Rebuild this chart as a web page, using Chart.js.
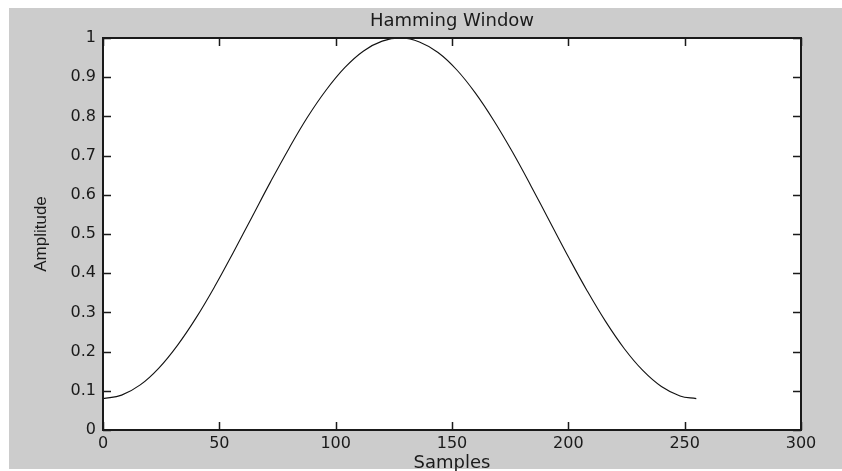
<!DOCTYPE html>
<html>
<head>
<meta charset="utf-8">
<title>Hamming Window</title>
<script src="https://cdn.jsdelivr.net/npm/chart.js@4.4.1/dist/chart.umd.min.js"></script>
<style>
  html, body { margin: 0; padding: 0; background: #ffffff; }
  #wrap { position: relative; width: 842px; height: 471px; }
</style>
</head>
<body>
<div id="wrap"><canvas id="hammingChart" width="842" height="471"></canvas></div>
<script>
// values (sample index -> amplitude)
const samples = [0, 8, 16, 24, 32, 40, 48, 56, 64, 72, 80, 88, 96, 104, 112, 120, 128,
    136, 144, 152, 160, 168, 176, 184, 192, 200, 208, 216, 224, 232, 240, 248, 255];
const amplitude = [0.080, 0.089, 0.115, 0.158, 0.216, 0.286, 0.366, 0.453, 0.543, 0.633, 0.719, 0.799, 0.868, 0.925, 0.967, 0.992, 1.000,
    0.990, 0.963, 0.919, 0.860, 0.789, 0.709, 0.622, 0.532, 0.442, 0.356, 0.277, 0.208, 0.152, 0.111, 0.087, 0.080];

const xTicks = [0, 50, 100, 150, 200, 250, 300];
const yTicks = [0, 0.1, 0.2, 0.3, 0.4, 0.5, 0.6, 0.7, 0.8, 0.9, 1];

const GRAY = '#cccccc';
const INK = '#1a1a1a';

// figure background, white axes box, inward ticks on all four sides
const matlabFrame = {
    id: 'matlabFrame',
    beforeDraw(chart) {
        const ctx = chart.ctx;
        const a = chart.chartArea;
        ctx.save();
        ctx.fillStyle = '#ffffff';
        ctx.fillRect(0, 0, chart.width, chart.height);
        ctx.fillStyle = GRAY;
        ctx.fillRect(9, 8, chart.width - 9, 461);
        ctx.fillStyle = '#ffffff';
        ctx.fillRect(a.left, a.top, a.right - a.left, a.bottom - a.top);
        ctx.restore();
    },
    afterDatasetsDraw(chart) {
        const ctx = chart.ctx;
        const a = chart.chartArea;
        const xs = chart.scales.x;
        const ys = chart.scales.y;
        const len = 8;
        ctx.save();
        ctx.strokeStyle = INK;
        ctx.lineWidth = 1.5;
        ctx.beginPath();
        xTicks.forEach(v => {
            const px = Math.round(xs.getPixelForValue(v)) + 0.5;
            ctx.moveTo(px, a.bottom); ctx.lineTo(px, a.bottom - len);
            ctx.moveTo(px, a.top); ctx.lineTo(px, a.top + len);
        });
        yTicks.forEach(v => {
            const py = Math.round(ys.getPixelForValue(v)) + 0.5;
            ctx.moveTo(a.left, py); ctx.lineTo(a.left + len, py);
            ctx.moveTo(a.right, py); ctx.lineTo(a.right - len, py);
        });
        ctx.stroke();
        ctx.lineWidth = 2;
        ctx.strokeRect(a.left, a.top, a.right - a.left, a.bottom - a.top);
        ctx.restore();
    }
};

const ctx = document.getElementById('hammingChart').getContext('2d');
new Chart(ctx, {
    type: 'line',
    data: {
        datasets: [{
            data: samples.map((s, i) => ({ x: s, y: amplitude[i] })),
            borderColor: '#111111',
            borderWidth: 1.1,
            pointRadius: 0,
            tension: 0.4,
            fill: false
        }]
    },
    options: {
        responsive: false,
        animation: false,
        layout: { padding: { left: 9, top: 8, right: 41, bottom: 2 } },
        plugins: {
            legend: { display: false },
            tooltip: { enabled: false },
            title: {
                display: true,
                text: 'Hamming Window',
                fullSize: false,
                color: INK,
                font: { family: 'DejaVu Sans', size: 18, weight: 'normal', lineHeight: 1.2 },
                padding: { top: 2.5, bottom: 5.9 }
            }
        },
        scales: {
            x: {
                type: 'linear',
                min: 0,
                max: 300,
                grid: { display: false, drawTicks: false },
                border: { display: false },
                afterBuildTicks: s => { s.ticks = xTicks.map(v => ({ value: v })); },
                afterFit: s => { s.height = 39; },
                ticks: {
                    color: INK,
                    padding: 4,
                    maxRotation: 0,
                    font: { family: 'DejaVu Sans', size: 16 },
                    callback: v => String(v)
                },
                title: {
                    display: true,
                    text: 'Samples',
                    color: INK,
                    padding: 0,
                    font: { family: 'DejaVu Sans', size: 18, lineHeight: 0.6 }
                }
            },
            y: {
                type: 'linear',
                min: 0,
                max: 1,
                grid: { display: false, drawTicks: false },
                border: { display: false },
                afterBuildTicks: s => { s.ticks = yTicks.map(v => ({ value: v })); },
                afterFit: s => { s.width = 94; },
                ticks: {
                    color: INK,
                    padding: 7,
                    font: { family: 'DejaVu Sans', size: 16 },
                    callback: v => String(v)
                },
                title: {
                    display: true,
                    text: 'Amplitude',
                    color: INK,
                    padding: { top: 22, bottom: 0 },
                    font: { family: 'Liberation Sans', size: 17, lineHeight: 1.2 }
                }
            }
        }
    },
    plugins: [matlabFrame]
});
</script>
</body>
</html>
